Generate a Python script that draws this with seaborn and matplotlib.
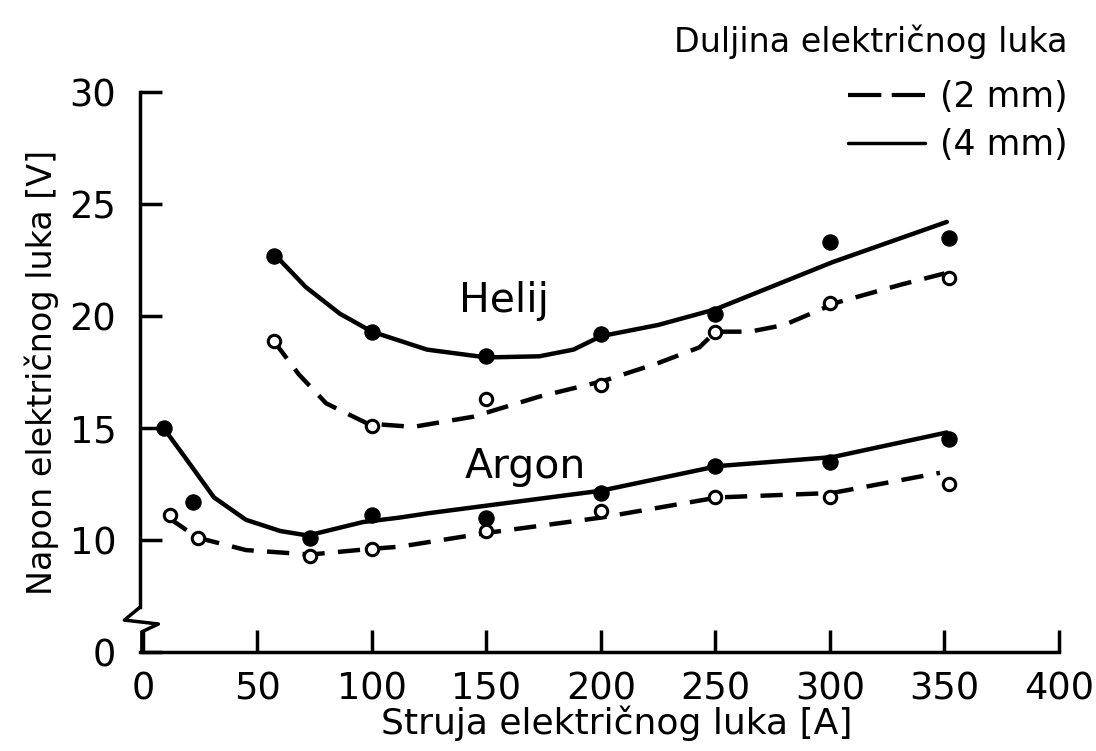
import numpy as np
import pandas as pd
import matplotlib
matplotlib.use("Agg")
import matplotlib.pyplot as plt
from matplotlib.lines import Line2D
import seaborn as sns

# measured points (filled = 4 mm, open = 2 mm)
helij_x = [57, 100, 150, 200, 250, 300, 352]
helij_4mm = [22.7, 19.3, 18.2, 19.2, 20.1, 23.3, 23.5]
helij_2mm = [18.9, 15.1, 16.3, 16.9, 19.3, 20.6, 21.7]

argon_4mm_x = [9, 22, 73, 100, 150, 200, 250, 300, 352]
argon_4mm = [15.0, 11.7, 10.1, 11.1, 11.0, 12.1, 13.3, 13.5, 14.5]
argon_2mm_x = [12, 24, 73, 100, 150, 200, 250, 300, 352]
argon_2mm = [11.1, 10.1, 9.3, 9.6, 10.4, 11.3, 11.9, 11.9, 12.5]

# fitted curves
helij_4mm_kx = [57, 71, 86, 100, 124, 150, 173, 188, 200, 225, 250, 301, 351]
helij_4mm_ky = [22.8, 21.3, 20.1, 19.3, 18.5, 18.15, 18.2, 18.5, 19.1, 19.6, 20.3, 22.4, 24.2]
helij_2mm_kx = [57, 68, 80, 98, 118, 144, 173, 201, 225, 243, 250, 265, 280, 303, 331, 350]
helij_2mm_ky = [18.9, 17.4, 16.1, 15.2, 15.05, 15.5, 16.4, 17.1, 17.9, 18.6, 19.3, 19.3, 19.6, 20.6, 21.4, 21.9]
argon_4mm_kx = [9, 19, 31, 45, 60, 72, 96, 112, 125, 200, 251, 301, 351]
argon_4mm_ky = [15.0, 13.6, 11.9, 10.9, 10.4, 10.2, 10.8, 11.0, 11.2, 12.2, 13.3, 13.7, 14.8]
argon_2mm_kx = [11, 24, 45, 73, 99, 112, 149, 200, 251, 301, 348]
argon_2mm_ky = [11.0, 10.1, 9.55, 9.35, 9.6, 9.7, 10.3, 11.0, 11.9, 12.1, 13.0]

x_ticks = [0, 50, 100, 150, 200, 250, 300, 350, 400]
y_ticks = [0, 10, 15, 20, 25, 30]

sns.set_style("ticks")
plt.rcParams['font.family'] = ['DejaVu Sans']
plt.rcParams['text.color'] = 'black'
plt.rcParams['axes.labelcolor'] = 'black'


# broken y axis: everything under 7 V is squeezed
def fwd(v):
    v = np.asarray(v, dtype=float)
    return np.where(v >= 7, v, 5 + v * 2 / 7)


def inv(f):
    f = np.asarray(f, dtype=float)
    return np.where(f >= 7, f, (f - 5) * 3.5)


fig = plt.figure(figsize=(10.96, 7.51), dpi=100)
ax = fig.add_axes([140 / 1096, 1 - 652 / 751, 919 / 1096, 560 / 751])

crno = 'black'
crtkano = (0, (5, 3))
sns.lineplot(x=helij_4mm_kx, y=helij_4mm_ky, ax=ax, color=crno, lw=3.2, sort=False)
sns.lineplot(x=argon_4mm_kx, y=argon_4mm_ky, ax=ax, color=crno, lw=3.2, sort=False)
sns.lineplot(x=helij_2mm_kx, y=helij_2mm_ky, ax=ax, color=crno, lw=3.2, sort=False, linestyle=crtkano)
sns.lineplot(x=argon_2mm_kx, y=argon_2mm_ky, ax=ax, color=crno, lw=3.2, sort=False, linestyle=crtkano)

sns.scatterplot(x=helij_x, y=helij_4mm, ax=ax, color=crno, s=120, edgecolor=crno, zorder=5)
sns.scatterplot(x=argon_4mm_x, y=argon_4mm, ax=ax, color=crno, s=120, edgecolor=crno, zorder=5)
sns.scatterplot(x=helij_x, y=helij_2mm, ax=ax, color='white', s=80, edgecolor=crno, linewidth=2.2, zorder=5)
sns.scatterplot(x=argon_2mm_x, y=argon_2mm, ax=ax, color='white', s=80, edgecolor=crno, linewidth=2.2, zorder=5)

ax.set_yscale('function', functions=(fwd, inv))
ax.set_xlim(-1.3, 400)
ax.set_ylim(0, 30)
ax.set_xticks(x_ticks)
ax.set_yticks(y_ticks)
ax.set_yticklabels([str(t) for t in y_ticks])
ax.minorticks_off()

sns.despine(ax=ax)
for s in ['left', 'bottom']:
    ax.spines[s].set_linewidth(2.5)
    ax.spines[s].set_color(crno)
ax.spines['left'].set_bounds(7, 30)
ax.tick_params(direction='in', length=16, width=2.5, labelsize=26.5, colors=crno)
ax.tick_params(axis='y', pad=17)
ax.tick_params(axis='x', pad=13)

# break mark on the y axis
ax.plot([0, -0.017, 0.02, 0.002, 0.002], [0.08, 0.057, 0.05, 0.036, 0],
        transform=ax.transAxes, color=crno, lw=2.5, clip_on=False)

ax.text(157.5, 20.18, 'Helij', fontsize=29.5, ha='center', va='baseline')
ax.text(167, 12.77, 'Argon', fontsize=29.5, ha='center', va='baseline')

ax.set_xlabel('Struja električnog luka [A]', fontsize=26)
ax.set_ylabel('Napon električnog luka [V]', fontsize=24)
ax.xaxis.set_label_coords(0.519, -0.095)
ax.yaxis.set_label_coords(-0.088, 0.5)

# legend
fig.text(1068 / 1096, 1 - 42 / 751, 'Duljina električnog luka', fontsize=24,
         ha='right', va='center')
ruke = [Line2D([], [], color=crno, lw=3, linestyle=(0, (8, 2.5))),
        Line2D([], [], color=crno, lw=2.5)]
ax.legend(ruke, ['(2 mm)', '(4 mm)'],
          loc='upper right', bbox_to_anchor=(1068 / 1096, 1 - 80 / 751),
          bbox_transform=fig.transFigure, frameon=False,
          handlelength=2.2, handletextpad=0.45, borderaxespad=0, borderpad=0,
          fontsize=25, labelspacing=0.4, labelcolor=crno)

fig.savefig('out.png', dpi=100)
